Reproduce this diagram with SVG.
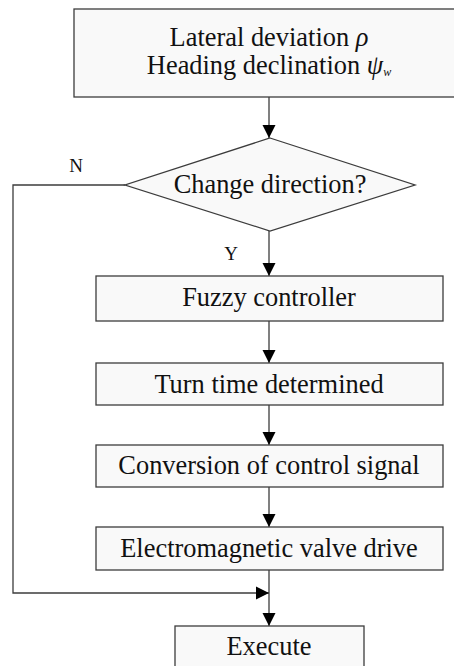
<svg xmlns="http://www.w3.org/2000/svg" width="454" height="666" viewBox="0 0 454 666">
  <style>
    .box { fill: #f9f9f9; stroke: #3c3c3c; stroke-width: 1.3; }
    .line { fill: none; stroke: #3c3c3c; stroke-width: 1.3; }
    .txt { font-size: 26.4px; fill: #111; text-anchor: middle; }
    .tag { font-size: 19px; fill: #111; text-anchor: middle; }
  </style>
  <defs>
    <marker id="arrow" markerUnits="userSpaceOnUse" markerWidth="14" markerHeight="14" viewBox="0 0 14 14" refX="13" refY="7" orient="auto">
      <path d="M0,0.5 L13,7 L0,13.5 Z" fill="#000"/>
    </marker>
  </defs>

  <g id="connectors">
    <line class="line" x1="269" y1="97" x2="269" y2="138" marker-end="url(#arrow)"/>
    <line class="line" x1="269" y1="231" x2="269" y2="276" marker-end="url(#arrow)"/>
    <line class="line" x1="269" y1="321" x2="269" y2="363" marker-end="url(#arrow)"/>
    <line class="line" x1="269" y1="405" x2="269" y2="445" marker-end="url(#arrow)"/>
    <line class="line" x1="269" y1="487" x2="269" y2="527" marker-end="url(#arrow)"/>
    <line class="line" x1="269" y1="570" x2="269" y2="626" marker-end="url(#arrow)"/>
    <polyline class="line" points="125,185 13,185 13,593 269,593" marker-end="url(#arrow)"/>
  </g>

  <g font-family="'Liberation Serif', 'Times New Roman', serif">
    <g id="input">
      <rect class="box" x="74" y="9" width="400" height="88"/>
      <text class="txt" x="269" y="46">Lateral deviation <tspan font-style="italic">ρ</tspan></text>
      <text class="txt" x="269" y="74">Heading declination <tspan font-style="italic">ψ</tspan><tspan font-style="italic" font-size="12" dy="2">w</tspan></text>
    </g>

    <g id="decision">
      <polygon class="box" points="270,138 415,185 270,231 125,185"/>
      <text class="txt" x="270" y="193">Change direction?</text>
      <text class="tag" x="76" y="172">N</text>
      <text class="tag" x="231" y="260">Y</text>
    </g>

    <g id="fuzzy">
      <rect class="box" x="96" y="276" width="347" height="45"/>
      <text class="txt" x="269" y="306">Fuzzy controller</text>
    </g>

    <g id="turn-time">
      <rect class="box" x="96" y="363" width="347" height="42"/>
      <text class="txt" x="269" y="393">Turn time determined</text>
    </g>

    <g id="conversion">
      <rect class="box" x="96" y="445" width="347" height="42"/>
      <text class="txt" x="269" y="474">Conversion of control signal</text>
    </g>

    <g id="valve">
      <rect class="box" x="96" y="527" width="347" height="43"/>
      <text class="txt" x="269" y="557">Electromagnetic valve drive</text>
    </g>

    <g id="execute">
      <rect class="box" x="175" y="626" width="189" height="60"/>
      <text class="txt" x="269" y="655">Execute</text>
    </g>
  </g>
</svg>
